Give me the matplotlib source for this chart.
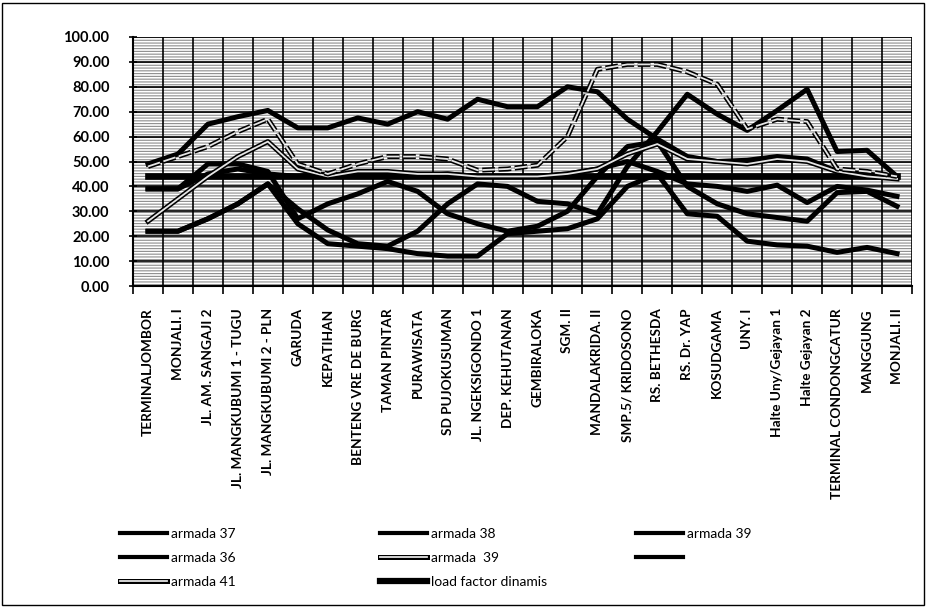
'''
Load factor per halte, scanned-report style line chart.
'''

import matplotlib
matplotlib.use('Agg')
import matplotlib.pyplot as plt
import matplotlib.patheffects as pe
from matplotlib.lines import Line2D
from matplotlib.patches import Rectangle
from matplotlib.ticker import FixedLocator


HALTE = [
    'TERMINALJOMBOR', 'MONJALI. I', 'JL. AM. SANGAJI 2',
    'JL. MANGKUBUMI 1 - TUGU', 'JL. MANGKUBUMI 2 - PLN', 'GARUDA',
    'KEPATIHAN', 'BENTENG VRE DE BURG', 'TAMAN PINTAR', 'PURAWISATA',
    'SD PUJOKUSUMAN', 'JL. NGEKSIGONDO 1', 'DEP. KEHUTANAN', 'GEMBIRALOKA',
    'SGM. II', 'MANDALAKRIDA. II', 'SMP.5/ KRIDOSONO', 'RS. BETHESDA',
    'RS. Dr. YAP', 'KOSUDGAMA', 'UNY. I', 'Halte Uny/Gejayan 1',
    'Halte Gejayan 2', 'TERMINAL CONDONGCATUR', 'MANGGUNG', 'MONJALI. II',
]

armada_37 = [49, 53, 65, 68, 70.5, 63.5, 63.5, 67.5, 65, 70, 67, 75, 72,
             72, 80, 78, 67, 59, 52, 50, 50.5, 52, 51, 46, 45, 43.5]
armada_38 = [22, 22, 27, 33, 41, 25, 17, 16, 15, 13, 12, 12, 21,
             22, 23, 27, 40, 45, 29, 28, 18, 16.5, 16, 13.5, 15.5, 13]
armada_39 = [39, 39, 49, 49, 46, 27, 33, 37, 42, 38, 29, 25, 22,
             24, 30, 44, 56, 58, 40, 33, 29, 27.5, 26, 37.5, 38, 32]
armada_36 = [22, 22, 27, 33, 41, 31, 22.5, 17, 16, 22, 33, 41, 40,
             34, 33, 29, 48, 62, 77, 69, 62.5, 70.5, 79, 54, 54.5, 44]
armada_39b = [26, 35, 44, 52, 58, 47, 44, 46, 46, 45, 45, 44, 44,
              44, 45, 47, 53, 57, 51, 50, 49, 51, 50, 46, 44, 43]
armada_x = [39, 39, 45, 47, 45, 44, 45, 44, 44, 44, 45, 44, 44,
            44, 45, 47, 50, 46, 41, 40, 38, 40.5, 33.5, 40, 38.5, 36]
armada_41 = [48, 52, 56, 62, 67, 49, 45, 49, 52, 52, 51, 46.5, 47,
             48.5, 60, 87, 89, 89, 86, 81, 63, 67, 66, 47, 46, 44]
load_factor = [44, 44, 44, 44, 44, 44, 44, 44, 44, 44, 44, 44, 44,
               44, 44, 44, 44, 44, 44, 44, 44, 44, 44, 44, 44, 44]

Y_TICKS = [0, 10, 20, 30, 40, 50, 60, 70, 80, 90, 100]

W, H = 928, 609


def hollow(width=3.6):
    '''
    Outline effect that makes a thin grey line look like the scan.
    '''
    return [pe.Stroke(linewidth=width, foreground='black'), pe.Normal()]


def main() -> None:
    plt.rcParams['font.family'] = ['Lato', 'DejaVu Sans']
    plt.rcParams['hatch.linewidth'] = 0.8

    fig = plt.figure(figsize=(W / 100, H / 100), dpi=100)
    ax = fig.add_axes([133 / W, 1 - 286 / H, (912 - 133) / W, (286 - 37) / H])

    # the scanned fill pattern of the plot area
    ax.add_patch(Rectangle((0, 0), 1, 1, transform=ax.transAxes,
                           facecolor='white', edgecolor='#8c8c8c',
                           hatch='------', lw=0, zorder=0))

    x = list(range(len(HALTE)))
    thick = dict(color='black', lw=3.6, solid_joinstyle='round', zorder=3)
    ax.plot(x, armada_37, **thick)
    ax.plot(x, armada_38, **thick)
    ax.plot(x, armada_39, **thick)
    ax.plot(x, armada_36, **thick)
    ax.plot(x, armada_x, **thick)
    ax.plot(x, armada_39b, color='#e6e6e6', lw=1.3, zorder=4,
            path_effects=hollow())
    ax.plot(x, armada_41, color='#e6e6e6', lw=1.3, zorder=4,
            dashes=(7, 2), path_effects=hollow())
    ax.plot(x, load_factor, color='black', lw=4.8, zorder=3)

    ax.set_xlim(-0.5, len(HALTE) - 0.5)
    ax.set_ylim(0, 100)
    ax.set_yticks(Y_TICKS)
    ax.set_yticklabels([f'{v:.2f}' for v in Y_TICKS],
                       fontsize=10.5, fontweight='bold')
    ax.set_xticks(x)
    ax.set_xticklabels(HALTE, rotation=90, fontsize=9.8, fontweight='bold',
                       va='top', ha='center')
    ax.xaxis.set_minor_locator(
        FixedLocator([i - 0.5 for i in range(len(HALTE) + 1)]))
    ax.tick_params(axis='x', which='major', length=0, pad=16)
    ax.tick_params(axis='x', which='minor', length=6, width=1.2,
                   direction='out')
    ax.tick_params(axis='y', length=6, width=1.2, direction='inout', pad=14)

    ax.grid(axis='y', which='major', color='black', lw=1.2, zorder=1)
    ax.grid(axis='x', which='minor', color='black', lw=1.2, zorder=1)
    ax.set_axisbelow(True)
    for side in ('top', 'right'):
        ax.spines[side].set_visible(False)
    for side in ('left', 'bottom'):
        ax.spines[side].set_linewidth(1.5)

    # legend laid out like the excel one, column by column
    h_thick = Line2D([], [], color='black', lw=3)
    h_thin = Line2D([], [], color='#e6e6e6', lw=1.3, path_effects=hollow())
    h_dash = Line2D([], [], color='#e6e6e6', lw=1.3, path_effects=hollow())
    h_load = Line2D([], [], color='black', lw=4.5)
    columns = [
        (120, [h_thick, h_thick, h_dash],
         ['armada 37', 'armada 36', 'armada 41']),
        (380, [h_thick, h_thin, h_load],
         ['armada 38', 'armada  39', 'load factor dinamis']),
        (636, [h_thick, h_thick], ['armada 39', '']),
    ]
    for left, handles, labels in columns:
        fig.legend(handles, labels, loc='upper left',
                   bbox_to_anchor=(left / W, 1 - 528 / H),
                   frameon=False, fontsize=10, handlelength=3.4,
                   handletextpad=0.3, labelspacing=0.85, borderpad=0,
                   borderaxespad=0)

    fig.patches.append(Rectangle((2 / W, 4 / H), 922 / W, 602 / H,
                                 transform=fig.transFigure, fill=False,
                                 edgecolor='black', lw=1))

    fig.savefig('out.png', dpi=100)


if __name__ == '__main__':
    main()
